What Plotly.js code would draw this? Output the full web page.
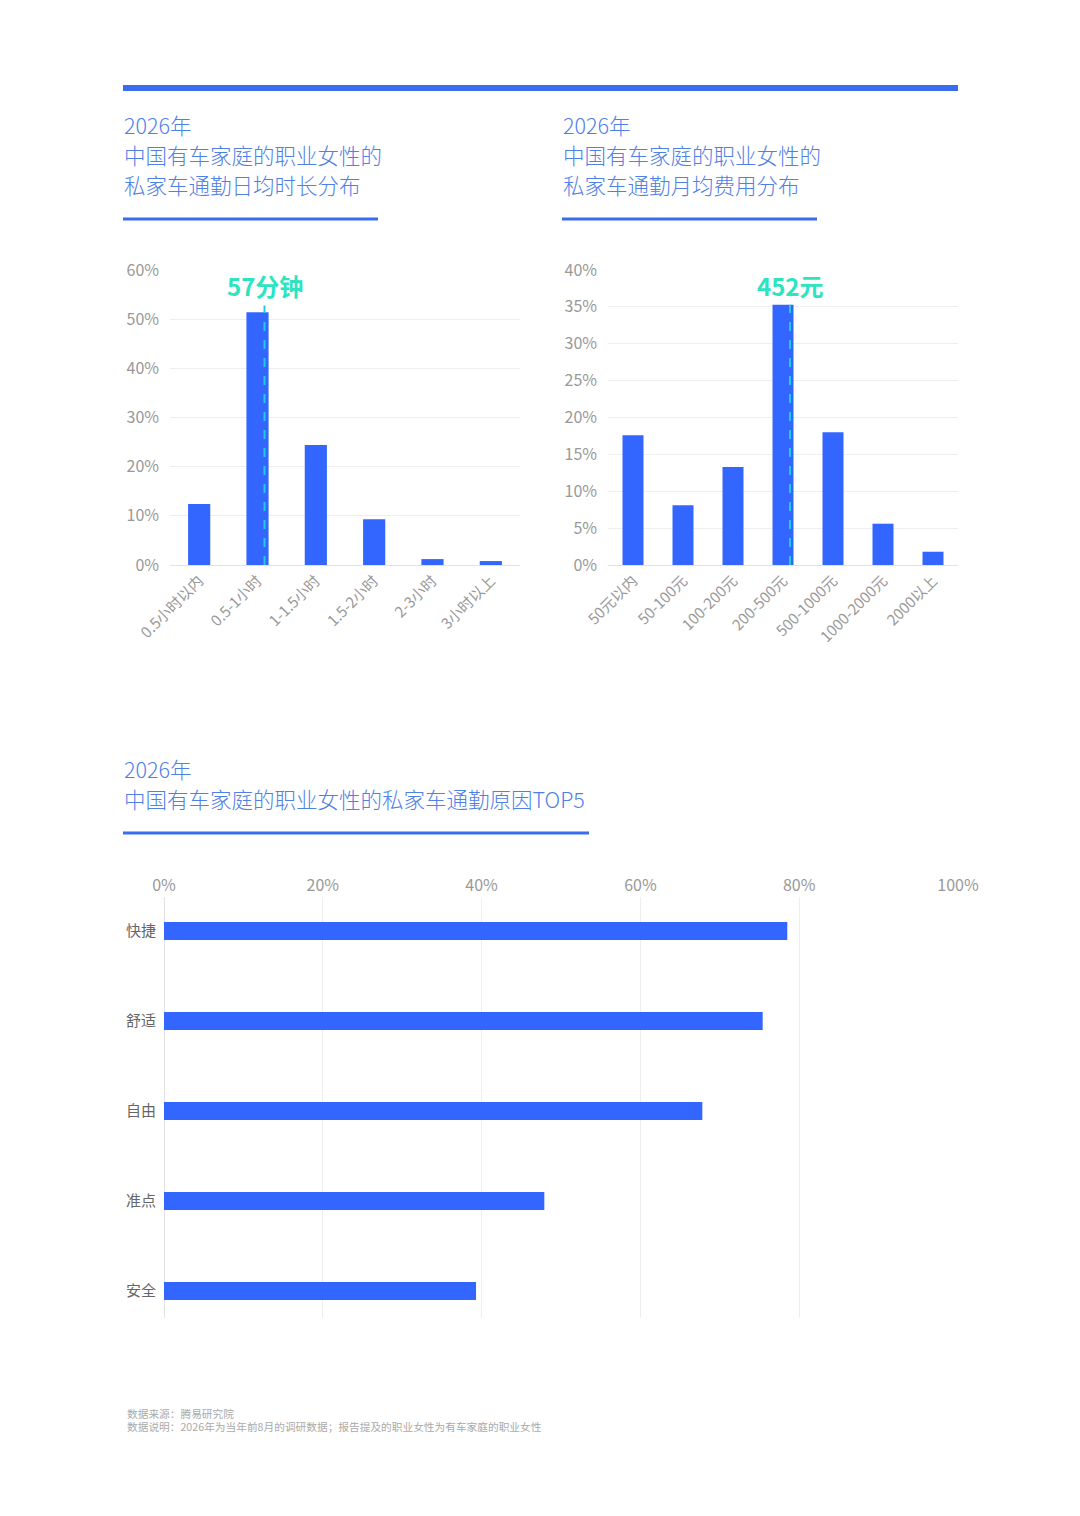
<!DOCTYPE html>
<html>
<head>
<meta charset="utf-8">
<script src="https://cdn.plot.ly/plotly-3.0.1.min.js"></script>
<style>
body { margin: 0; background: #fff; }
#plot { width: 1080px; height: 1516px; }
</style>
</head>
<body>
<div id="plot"></div>
<script>
// daily commute duration
var durCats = ["0.5小时以内", "0.5-1小时", "1-1.5小时", "1.5-2小时", "2-3小时", "3小时以上"];
var durVals = [12.4, 51.4, 24.4, 9.3, 1.2, 0.8];
var durAvgLabel = "57分钟";
var durAvgPos = 1.12;

// monthly commute cost
var costCats = ["50元以内", "50-100元", "100-200元", "200-500元", "500-1000元", "1000-2000元", "2000以上"];
var costVals = [17.6, 8.1, 13.3, 35.3, 18.0, 5.6, 1.8];
var costAvgLabel = "452元";
var costAvgPos = 3.14;

// top5 reasons
var reasonCats = ["快捷", "舒适", "自由", "准点", "安全"];
var reasonVals = [78.5, 75.4, 67.8, 47.9, 39.3];

var FONT = "Noto Sans CJK SC, Noto Sans, sans-serif";
var BLUE = "#3366ff";
var TITLE_C = "#4f80e6";
var AVG_C = "#2ee3bf";
var DASH_C = "#22c8e6";

// pixel -> paper
function px(x) { return x / 1080; }
function py(y) { return 1 - y / 1516; }

var traceDur = {
  x: durCats, y: durVals, type: "bar", xaxis: "x", yaxis: "y",
  width: 0.38, marker: { color: BLUE }, hoverinfo: "none"
};
var traceCost = {
  x: costCats, y: costVals, type: "bar", xaxis: "x2", yaxis: "y2",
  width: 0.42, marker: { color: BLUE }, hoverinfo: "none"
};
var traceReason = {
  x: reasonVals, y: reasonCats, type: "bar", orientation: "h", xaxis: "x3", yaxis: "y3",
  width: 0.2, marker: { color: BLUE }, hoverinfo: "none"
};

var tickFont = { family: FONT, size: 16, color: "#999" };
var catFont = { family: FONT, size: 15, color: "#999" };

function titleLines(x, y0, lines, step) {
  return lines.map(function (t, i) {
    return {
      xref: "paper", yref: "paper", x: px(x), y: py(y0 + i * step),
      xanchor: "left", yanchor: "middle", showarrow: false, text: t,
      font: { family: FONT, size: 21.5, weight: 300, color: TITLE_C }
    };
  });
}

var annotations = []
  .concat(titleLines(122, 124, ["2026年", "中国有车家庭的职业女性的", "私家车通勤日均时长分布"], 30))
  .concat(titleLines(561, 124, ["2026年", "中国有车家庭的职业女性的", "私家车通勤月均费用分布"], 30))
  .concat(titleLines(122, 768, ["2026年", "中国有车家庭的职业女性的私家车通勤原因TOP5"], 30));

annotations.push({
  xref: "x", yref: "y", x: durAvgPos, y: 52.8, yanchor: "bottom", xanchor: "center",
  yshift: 0, showarrow: false, text: "<b>" + durAvgLabel + "</b>",
  font: { family: FONT, size: 24, color: AVG_C }
});
annotations.push({
  xref: "x2", yref: "y2", x: costAvgPos, y: costVals[3], yanchor: "bottom", xanchor: "center",
  yshift: 0, showarrow: false, text: "<b>" + costAvgLabel + "</b>",
  font: { family: FONT, size: 24, color: AVG_C }
});
annotations.push({
  xref: "paper", yref: "paper", x: px(125), y: py(1413), xanchor: "left", yanchor: "middle",
  showarrow: false, text: "数据来源：腾易研究院",
  font: { family: FONT, size: 10.7, color: "#aaa" }
});
annotations.push({
  xref: "paper", yref: "paper", x: px(125), y: py(1426), xanchor: "left", yanchor: "middle",
  showarrow: false, text: "数据说明：2026年为当年前8月的调研数据；报告提及的职业女性为有车家庭的职业女性",
  font: { family: FONT, size: 10.7, color: "#aaa" }
});

function hline(x0, x1, y, w) {
  return {
    type: "line", xref: "paper", yref: "paper", x0: px(x0), x1: px(x1), y0: py(y), y1: py(y),
    line: { color: "#3a6cf0", width: w }
  };
}

var shapes = [
  hline(123, 958, 88, 6),
  hline(123, 378, 219, 3),
  hline(562, 817, 219, 3),
  hline(123, 589, 833, 3),
  {
    type: "line", xref: "x", yref: "y", x0: durAvgPos, x1: durAvgPos, y0: 0, y1: 52.8,
    line: { color: DASH_C, width: 2, dash: "dash" }
  },
  {
    type: "line", xref: "x2", yref: "y2", x0: costAvgPos, x1: costAvgPos, y0: 0, y1: costVals[3],
    line: { color: DASH_C, width: 2, dash: "dash" }
  }
];

var layout = {
  width: 1080, height: 1516,
  margin: { l: 0, r: 0, t: 0, b: 0 },
  paper_bgcolor: "#fff", plot_bgcolor: "#fff",
  showlegend: false,
  font: { family: FONT },
  xaxis: {
    domain: [px(170), px(520)], anchor: "y", type: "category",
    tickangle: -45, tickfont: catFont, showgrid: false, showline: false, ticks: "",
    ticklabelstandoff: 3, fixedrange: true
  },
  yaxis: {
    domain: [py(565), py(270)], anchor: "x", range: [0, 60], dtick: 10, ticksuffix: "%",
    gridcolor: "#eeeeee", zeroline: true, zerolinecolor: "#e2e2e2", tickfont: tickFont,
    ticklabelstandoff: 10, fixedrange: true
  },
  xaxis2: {
    domain: [px(608), px(958)], anchor: "y2", type: "category",
    tickangle: -45, tickfont: catFont, showgrid: false, showline: false, ticks: "",
    ticklabelstandoff: 3, fixedrange: true
  },
  yaxis2: {
    domain: [py(565), py(270)], anchor: "x2", range: [0, 40], dtick: 5, ticksuffix: "%",
    gridcolor: "#eeeeee", zeroline: true, zerolinecolor: "#e2e2e2", tickfont: tickFont,
    ticklabelstandoff: 10, fixedrange: true
  },
  xaxis3: {
    domain: [px(164), px(958)], anchor: "y3", side: "top", range: [0, 100], dtick: 20,
    ticksuffix: "%", gridcolor: "#eeeeee", zeroline: true, zerolinecolor: "#e2e2e2",
    tickfont: tickFont, ticklabelstandoff: 2, fixedrange: true
  },
  yaxis3: {
    domain: [py(1318), py(897)], anchor: "x3", type: "category", range: [4.3, -0.378],
    tickfont: { family: FONT, size: 15, color: "#666" }, showgrid: false, ticks: "",
    ticklabelstandoff: 7, fixedrange: true
  },
  annotations: annotations,
  shapes: shapes
};

Plotly.newPlot("plot", [traceDur, traceCost, traceReason], layout, { displayModeBar: false, staticPlot: true });
</script>
</body>
</html>
